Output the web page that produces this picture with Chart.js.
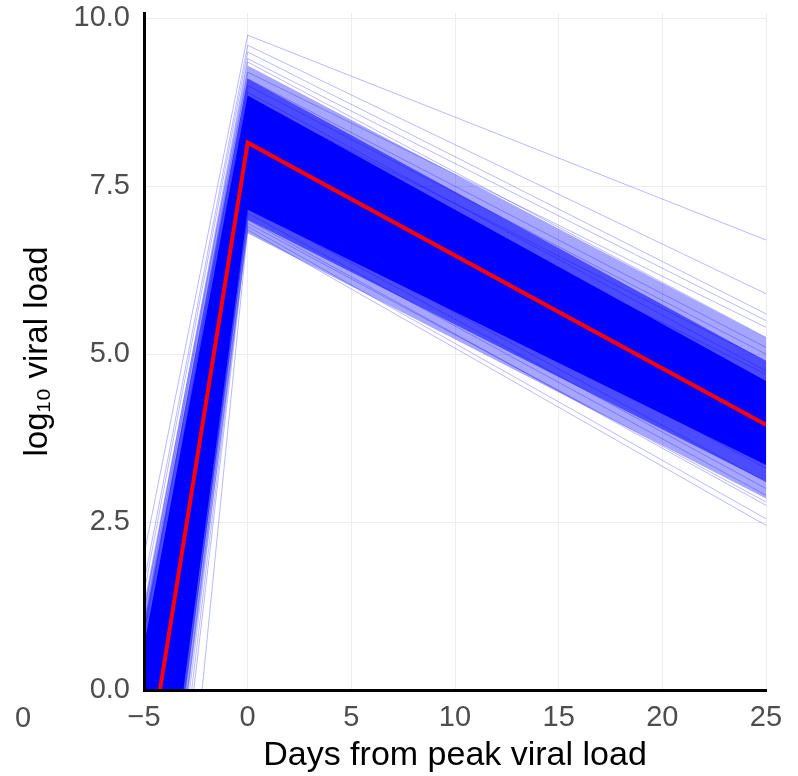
<!DOCTYPE html>
<html>
<head>
<meta charset="utf-8">
<script src="https://cdn.jsdelivr.net/npm/chart.js@4.4.1/dist/chart.umd.min.js"></script>
<style>
html, body { margin: 0; padding: 0; background: #fff; }
canvas { display: block; }
</style>
</head>
<body>
<canvas id="viral" width="798" height="776"></canvas>
<script>
// axis ticks
const xTicks = [-5, 0, 5, 10, 15, 20, 25];
const xTickLabels = ['\u22125', '0', '5', '10', '15', '20', '25'];
const yTicks = [0, 2.5, 5, 7.5, 10];
const yTickLabels = ['0.0', '2.5', '5.0', '7.5', '10.0'];

// mean trajectory (red): onset, peak, day 25
const meanDays = [-4.23, 0, 25];
const meanLoad = [0, 8.15, 3.95];

// individual draws: day where load = 0, peak load, load on day 25
const drawOnset = [-6.3, -6.0, -5.9, -5.7, -5.6, -5.5, -5.3, -5.1, -4.9, -4.8, -4.6, -4.5, -4.4, -4.2, -4.0,
                   -3.9, -3.8, -3.7, -3.6, -3.5, -3.4, -3.3, -3.2, -3.0, -2.9, -2.8, -2.7, -2.6, -2.2];
const drawPeak = [9.75, 9.6, 9.5, 9.4, 9.35, 9.2, 9.1, 9.0, 8.9, 8.8, 8.7, 8.55, 8.45, 8.3, 8.1,
                  8.0, 7.9, 7.8, 7.7, 7.6, 7.5, 7.4, 7.3, 7.2, 7.1, 7.0, 6.95, 6.9, 6.85];
const drawDay25 = [6.7, 5.9, 5.6, 5.5, 5.25, 5.4, 5.1, 5.0, 4.75, 4.9, 4.55, 4.7, 4.3, 4.4, 4.1,
                   3.95, 3.7, 3.85, 3.55, 3.6, 3.3, 3.4, 3.1, 3.0, 2.9, 2.75, 2.8, 2.55, 2.45];

// where the draws pile up: outline of each density level
const spreadDays = [-5.8, 0, 25, 25, 0, -2.85];
const spreadLoad = [0, 9.3, 5.25, 2.85, 6.8, 0];
const midDays = [-5.6, 0, 25, 25, 0, -3.0];
const midLoad = [0, 9.1, 4.9, 3.1, 7.0, 0];
const coreDays = [-5.4, 0, 25, 25, 0, -3.1];
const coreLoad = [0, 8.85, 4.6, 3.35, 7.15, 0];

const pts = (xs, ys) => xs.map((x, i) => ({x: x, y: ys[i]}));

const datasets = [];
datasets.push({
  label: 'mean',
  data: pts(meanDays, meanLoad),
  borderColor: '#ff0000',
  borderWidth: 4,
  fill: false
});
drawOnset.forEach((s, i) => {
  datasets.push({
    data: pts([s, 0, 25], [0, drawPeak[i], drawDay25[i]]),
    borderColor: 'rgba(0,0,255,0.28)',
    borderWidth: 1,
    fill: false
  });
});
[[coreDays, coreLoad, 'rgba(0,0,255,1)'],
 [midDays, midLoad, 'rgba(0,0,255,0.55)'],
 [spreadDays, spreadLoad, 'rgba(0,0,255,0.35)']].forEach(b => {
  datasets.push({
    data: pts(b[0], b[1]),
    borderColor: 'transparent',
    borderWidth: 1,
    backgroundColor: b[2],
    fill: 'shape'
  });
});

const font = 'Liberation Sans, Arial, Helvetica, sans-serif';

const strayLabel = {
  id: 'strayLabel',
  afterDraw(chart) {
    const c = chart.ctx;
    c.save();
    c.font = '29px ' + font;
    c.fillStyle = '#4d4d4d';
    c.textAlign = 'left';
    c.textBaseline = 'middle';
    c.fillText('0', 15, 719);
    c.restore();
  }
};

new Chart(document.getElementById('viral'), {
  type: 'line',
  data: { datasets: datasets },
  plugins: [strayLabel],
  options: {
    responsive: false,
    animation: false,
    layout: { padding: { top: 13, right: 32, left: 0, bottom: 0 } },
    elements: { point: { radius: 0 }, line: { tension: 0 } },
    plugins: { legend: { display: false }, tooltip: { enabled: false } },
    scales: {
      x: {
        type: 'linear',
        min: -5,
        max: 25,
        afterBuildTicks: s => { s.ticks = xTicks.map(v => ({value: v})); },
        afterFit: s => { s.height = 86; s.paddingLeft = 0; s.paddingRight = 0; },
        ticks: {
          callback: (v) => xTickLabels[xTicks.indexOf(v)],
          color: '#4d4d4d',
          font: { family: font, size: 29 },
          padding: 11,
          maxRotation: 0
        },
        grid: { color: '#ececec', lineWidth: 1, drawTicks: false },
        border: { display: true, color: '#000', width: 3, z: 1 },
        title: {
          display: true,
          text: 'Days from peak viral load',
          color: '#000',
          font: { family: font, size: 34 },
          padding: { top: 0, bottom: 0 }
        }
      },
      y: {
        type: 'linear',
        min: 0,
        max: 10.08,
        afterBuildTicks: s => { s.ticks = yTicks.map(v => ({value: v})); },
        afterFit: s => { s.width = 144; s.paddingTop = 0; s.paddingBottom = 0; },
        ticks: {
          callback: (v) => yTickLabels[yTicks.indexOf(v)],
          color: '#4d4d4d',
          font: { family: font, size: 29 },
          padding: 14
        },
        grid: { color: '#ececec', lineWidth: 1, drawTicks: false },
        border: { display: true, color: '#000', width: 3, z: 1 },
        title: {
          display: true,
          text: 'log\u2081\u2080 viral load',
          color: '#000',
          font: { family: font, size: 33 },
          padding: { top: 18, bottom: 0 }
        }
      }
    }
  }
});
</script>
</body>
</html>
